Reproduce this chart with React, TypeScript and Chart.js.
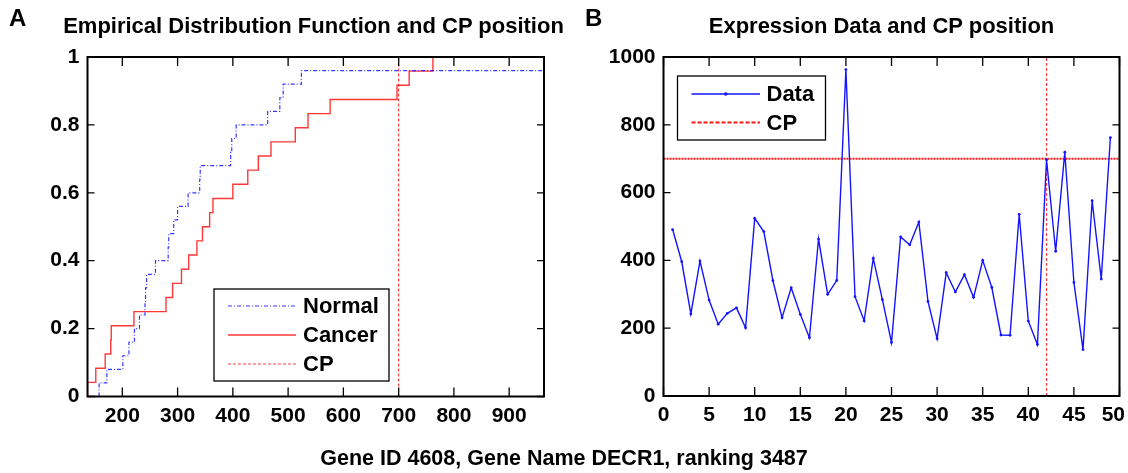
import React, { useEffect, useRef } from 'react';
import { Chart, registerables } from 'chart.js';

Chart.register(...registerables);

// Expression values for the 49 samples (first 25 = Normal, remaining 24 = Cancer)
const expression: number[] = [
  491, 396, 242, 398, 283, 212, 244, 260, 201, 524,
  485, 340, 231, 319, 241, 172, 463, 300, 341, 963,
  293, 222, 406, 284, 158,
  469, 446, 513, 279, 169, 364, 307, 358, 291, 400,
  320, 180, 179, 536, 221, 152, 697, 427, 719, 335,
  137, 576, 345, 762,
];
const normalCount = 25;
const cpValue = 700;
const cpIndex = 42;

const edfXTicks = [200, 300, 400, 500, 600, 700, 800, 900];
const edfYTicks = [0, 0.2, 0.4, 0.6, 0.8, 1];
const exprXTicks = [0, 5, 10, 15, 20, 25, 30, 35, 40, 45, 50];
const exprYTicks = [0, 200, 400, 600, 800, 1000];

const FONT = '"Liberation Sans", Arial, Helvetica, sans-serif';
const TICK_FONT = { family: FONT, size: 21, weight: 'bold' as const };

type Pt = { x: number; y: number };

function framePlugin(xTickLen: number, yTickLen: number, xLabelClampRight?: number) {
  return {
    id: 'frame',
    afterDraw(chart: any) {
      const { ctx, chartArea: a, scales } = chart;
      ctx.save();
      ctx.setLineDash([]);
      ctx.strokeStyle = '#000';
      ctx.lineWidth = 1.3;
      ctx.beginPath();
      scales.x.ticks.forEach((t: any) => {
        const px = scales.x.getPixelForValue(t.value);
        ctx.moveTo(px, a.bottom);
        ctx.lineTo(px, a.bottom - xTickLen);
        ctx.moveTo(px, a.top);
        ctx.lineTo(px, a.top + xTickLen);
      });
      scales.y.ticks.forEach((t: any) => {
        const py = scales.y.getPixelForValue(t.value);
        ctx.moveTo(a.left, py);
        ctx.lineTo(a.left + yTickLen, py);
        ctx.moveTo(a.right, py);
        ctx.lineTo(a.right - yTickLen, py);
      });
      ctx.stroke();
      ctx.lineWidth = 2;
      ctx.strokeRect(a.left, a.top, a.right - a.left, a.bottom - a.top);

      if (xLabelClampRight !== undefined) {
        ctx.fillStyle = '#000';
        ctx.font = `bold ${TICK_FONT.size}px ${FONT}`;
        ctx.textAlign = 'center';
        ctx.textBaseline = 'middle';
        const y = a.bottom + 7 + TICK_FONT.size * 0.6;
        scales.x.ticks.forEach((t: any) => {
          const label = String(t.value);
          const w = ctx.measureText(label).width;
          const px = Math.min(scales.x.getPixelForValue(t.value), xLabelClampRight - w / 2);
          ctx.fillText(label, px, y);
        });
      }
      ctx.restore();
    },
  };
}

type LegendItem = { dataset: number; y: number; dash?: number[]; marker?: boolean };
type LegendCfg = { x: number; y: number; w: number; h: number; lineX0: number; lineX1: number; textX: number; items: LegendItem[] };

function legendPlugin(cfg: LegendCfg) {
  return {
    id: 'boxLegend',
    afterDraw(chart: any) {
      const ctx = chart.ctx;
      ctx.save();
      ctx.fillStyle = '#fff';
      ctx.fillRect(cfg.x, cfg.y, cfg.w, cfg.h);
      ctx.strokeStyle = '#000';
      ctx.lineWidth = 1.3;
      ctx.setLineDash([]);
      ctx.strokeRect(cfg.x, cfg.y, cfg.w, cfg.h);
      cfg.items.forEach((it) => {
        const ds = chart.data.datasets[it.dataset];
        ctx.strokeStyle = ds.borderColor;
        ctx.lineWidth = ds.borderWidth;
        ctx.setLineDash(it.dash ?? ds.borderDash ?? []);
        ctx.beginPath();
        ctx.moveTo(cfg.lineX0, it.y);
        ctx.lineTo(cfg.lineX1, it.y);
        ctx.stroke();
        ctx.setLineDash([]);
        if (it.marker) {
          ctx.fillStyle = ds.borderColor;
          ctx.beginPath();
          ctx.arc((cfg.lineX0 + cfg.lineX1) / 2, it.y, 1.8, 0, Math.PI * 2);
          ctx.fill();
        }
        ctx.fillStyle = '#000';
        ctx.font = `bold 22px ${FONT}`;
        ctx.textBaseline = 'middle';
        ctx.textAlign = 'left';
        ctx.fillText(ds.label, cfg.textX, it.y + 1);
      });
      ctx.restore();
    },
  };
}

function ecdf(values: number[], xMax: number): Pt[] {
  const s = [...values].sort((a, b) => a - b);
  const n = s.length;
  const pts: Pt[] = [{ x: s[0], y: 0 }];
  s.forEach((v, i) => pts.push({ x: v, y: (i + 1) / n }));
  if (s[n - 1] < xMax) pts.push({ x: xMax, y: 1 });
  return pts;
}

export default function App() {
  const leftRef = useRef<HTMLCanvasElement>(null);
  const rightRef = useRef<HTMLCanvasElement>(null);

  useEffect(() => {
    const normal = expression.slice(0, normalCount);
    const cancer = expression.slice(normalCount);
    const xMin = Math.min(...expression);
    const xMax = Math.max(...expression);

    const left = new Chart(leftRef.current!, {
      type: 'line',
      data: {
        datasets: [
          {
            label: 'Normal',
            data: ecdf(normal, xMax),
            borderColor: 'rgba(20,20,255,0.85)',
            borderWidth: 1.2,
            borderDash: [4, 2, 1, 2],
            stepped: true,
            pointRadius: 0,
            fill: false,
          },
          {
            label: 'Cancer',
            data: ecdf(cancer, xMax),
            borderColor: 'rgba(255,20,20,0.85)',
            borderWidth: 1.4,
            stepped: true,
            pointRadius: 0,
            fill: false,
          },
          {
            label: 'CP',
            data: [{ x: cpValue, y: 0 }, { x: cpValue, y: 1 }],
            borderColor: 'rgba(255,30,30,0.85)',
            borderWidth: 1.2,
            borderDash: [3, 2],
            pointRadius: 0,
            fill: false,
          },
        ] as any,
      },
      options: {
        animation: false,
        responsive: false,
        devicePixelRatio: 1,
        layout: { padding: { top: 57, right: 28, bottom: 0, left: 0 } },
        plugins: { legend: { display: false }, tooltip: { enabled: false }, title: { display: false } },
        scales: {
          x: {
            type: 'linear',
            min: xMin,
            max: xMax,
            grid: { display: false, drawTicks: false },
            border: { display: false },
            afterBuildTicks: (s: any) => { s.ticks = edfXTicks.map((v) => ({ value: v })); },
            afterFit: (s: any) => { s.height = 76.5; },
            ticks: { color: '#000', font: TICK_FONT, padding: 7, maxRotation: 0, autoSkip: false, callback: (v: any) => String(v) },
          },
          y: {
            type: 'linear',
            min: 0,
            max: 1,
            grid: { display: false, drawTicks: false },
            border: { display: false },
            afterBuildTicks: (s: any) => { s.ticks = edfYTicks.map((v) => ({ value: v })); },
            afterFit: (s: any) => { s.width = 87.5; },
            ticks: { color: '#000', font: TICK_FONT, padding: 8, autoSkip: false, callback: (v: any) => String(v) },
          },
        },
      } as any,
      plugins: [
        framePlugin(9, 7),
        legendPlugin({
          x: 214, y: 289, w: 175, h: 92, lineX0: 228, lineX1: 296, textX: 303,
          items: [
            { dataset: 0, y: 306 },
            { dataset: 1, y: 335 },
            { dataset: 2, y: 364 },
          ],
        }),
      ],
    });

    const right = new Chart(rightRef.current!, {
      type: 'line',
      data: {
        datasets: [
          {
            label: 'Data',
            data: expression.map((v, i) => ({ x: i + 1, y: v })),
            borderColor: 'rgb(20,20,255)',
            borderWidth: 1.4,
            pointRadius: 1.4,
            pointBackgroundColor: 'rgb(20,20,255)',
            pointBorderWidth: 0,
            fill: false,
            tension: 0,
          },
          {
            label: 'CP',
            data: [{ x: 0, y: cpValue }, { x: 50, y: cpValue }],
            borderColor: 'rgb(255,20,20)',
            borderWidth: 2,
            borderDash: [2, 1],
            pointRadius: 0,
            fill: false,
          },
          {
            label: 'CP',
            data: [{ x: cpIndex, y: 0 }, { x: cpIndex, y: 1000 }],
            borderColor: 'rgba(255,30,30,0.85)',
            borderWidth: 1.2,
            borderDash: [3, 2],
            pointRadius: 0,
            fill: false,
          },
        ] as any,
      },
      options: {
        animation: false,
        responsive: false,
        devicePixelRatio: 1,
        layout: { padding: { top: 57, right: 20.5, bottom: 0, left: 0 } },
        plugins: { legend: { display: false }, tooltip: { enabled: false }, title: { display: false } },
        scales: {
          x: {
            type: 'linear',
            min: 0,
            max: 50,
            grid: { display: false, drawTicks: false },
            border: { display: false },
            afterBuildTicks: (s: any) => { s.ticks = exprXTicks.map((v) => ({ value: v })); },
            afterFit: (s: any) => { s.height = 77; },
            ticks: { display: false, color: '#000', font: TICK_FONT, padding: 7, maxRotation: 0, autoSkip: false, callback: (v: any) => String(v) },
          },
          y: {
            type: 'linear',
            min: 0,
            max: 1000,
            grid: { display: false, drawTicks: false },
            border: { display: false },
            afterBuildTicks: (s: any) => { s.ticks = exprYTicks.map((v) => ({ value: v })); },
            afterFit: (s: any) => { s.width = 83.5; },
            ticks: { color: '#000', font: TICK_FONT, padding: 8, autoSkip: false, callback: (v: any) => String(v) },
          },
        },
      } as any,
      plugins: [
        framePlugin(9, 7, 545),
        legendPlugin({
          x: 97.5, y: 76, w: 148, h: 64, lineX0: 111.5, lineX1: 180, textX: 186.5,
          items: [
            { dataset: 0, y: 94, marker: true },
            { dataset: 1, y: 122.5, dash: [4, 2] },
          ],
        }),
      ],
    });

    return () => {
      left.destroy();
      right.destroy();
    };
  }, []);

  const textBase: React.CSSProperties = {
    position: 'absolute',
    fontFamily: FONT,
    fontWeight: 'bold',
    color: '#000',
    whiteSpace: 'nowrap',
  };

  return (
    <div style={{ position: 'absolute', left: 0, top: 0, width: 1128, height: 473, overflow: 'hidden', background: '#fff' }}>
      <canvas ref={leftRef} width={572} height={473} style={{ position: 'absolute', left: 0, top: 0, width: 572, height: 473 }} />
      <canvas ref={rightRef} width={560} height={473} style={{ position: 'absolute', left: 580, top: 0, width: 560, height: 473 }} />
      <div style={{ ...textBase, left: 9, top: 6, fontSize: 24, lineHeight: '24px' }}>A</div>
      <div style={{ ...textBase, left: 585, top: 6, fontSize: 24, lineHeight: '24px' }}>B</div>
      <div style={{ ...textBase, left: 13.5, width: 600, top: 15, fontSize: 22, lineHeight: '22px', textAlign: 'center' }}>
        Empirical Distribution Function and CP position
      </div>
      <div style={{ ...textBase, left: 581.5, width: 600, top: 15, fontSize: 22, lineHeight: '22px', textAlign: 'center' }}>
        Expression Data and CP position
      </div>
      <div style={{ ...textBase, left: 0, width: 1128, top: 448, fontSize: 21.5, lineHeight: '21.5px', textAlign: 'center' }}>
        Gene ID 4608, Gene Name DECR1, ranking 3487
      </div>
    </div>
  );
}
